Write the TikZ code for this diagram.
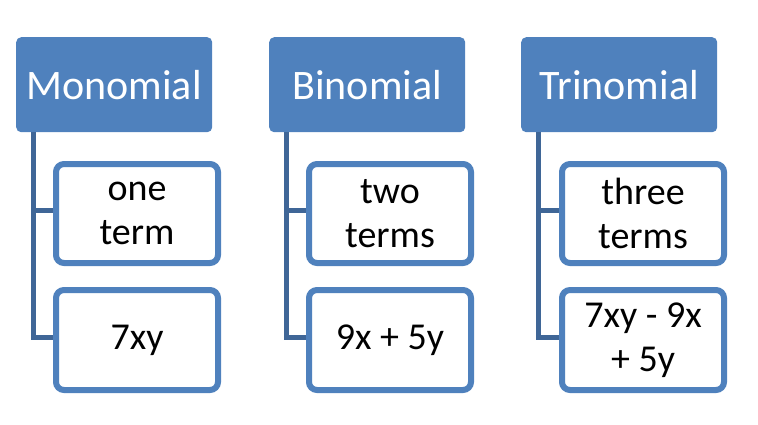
\documentclass[tikz,border=0pt]{standalone}
\usepackage{fontspec}
\setmainfont{Carlito}
\definecolor{hdrblue}{HTML}{4F81BD}
\definecolor{lineblue}{HTML}{3F6697}
\begin{document}
\begin{tikzpicture}[x=1pt,y=-1pt,
  hdr/.style={fill=hdrblue,draw=none,rounded corners=5pt,minimum width=196pt,minimum height=95pt,
    inner sep=0pt,text=white,font=\fontsize{42}{46}\selectfont,anchor=north west},
  kid/.style={draw=hdrblue,line width=6pt,fill=white,rounded corners=8pt,minimum width=162pt,
    inner sep=0pt,text=black,align=center,font=\fontsize{38}{44}\selectfont,anchor=north west},
  conn/.style={draw=lineblue,line width=5pt}]
\useasboundingbox (0,0) rectangle (758,424);
% headers
\node[hdr] (h1) at (16,37) {Monomial};
\node[hdr] (h2) at (269,37) {Binomial};
\node[hdr] (h3) at (521,37) {Trinomial};
% trunk start coordinates
\coordinate (t1) at ([xshift=17pt]h1.south west);
\coordinate (t2) at ([xshift=17pt]h2.south west);
\coordinate (t3) at ([xshift=17pt]h3.south west);
% child boxes positions (stroke centre)
\path (53,161) coordinate (p11) (53,287) coordinate (p12)
      (306,161) coordinate (p21) (306,287) coordinate (p22)
      (559,161) coordinate (p31) (559,287) coordinate (p32);
% connectors drawn first
\path (p11) ++(0,49.5) coordinate (w11);
\path (p12) ++(0,50) coordinate (w12);
\path (p21) ++(0,49.5) coordinate (w21);
\path (p22) ++(0,50) coordinate (w22);
\path (p31) ++(0,49.5) coordinate (w31);
\path (p32) ++(0,50) coordinate (w32);
\draw[conn] (t1) |- (w12);
\draw[conn] (t1 |- w11) -- (w11);
\draw[conn] (t2) |- (w22);
\draw[conn] (t2 |- w21) -- (w21);
\draw[conn] (t3) |- (w32);
\draw[conn] (t3 |- w31) -- (w31);
% children
\node[kid,minimum height=99pt] (c11) at (p11) {one\\term};
\node[kid,minimum height=100pt] (c12) at (p12) {7xy};
\node[kid,minimum height=99pt] (c21) at (p21) {two\\terms};
\node[kid,minimum height=100pt] (c22) at (p22) {9x + 5y};
\node[kid,minimum height=99pt] (c31) at (p31) {three\\terms};
\node[kid,minimum height=100pt] (c32) at (p32) {7xy - 9x\\+ 5y};
\end{tikzpicture}
\end{document}
